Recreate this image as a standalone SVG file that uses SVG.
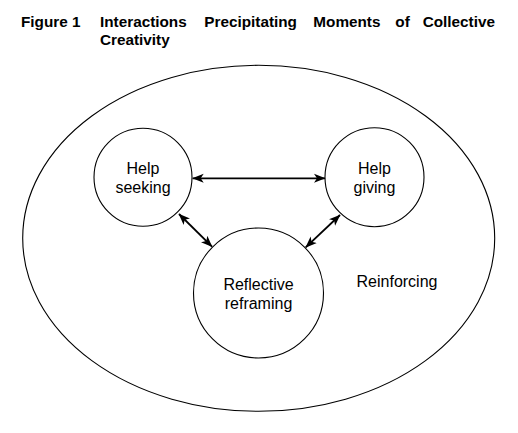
<svg xmlns="http://www.w3.org/2000/svg" width="518" height="433" viewBox="0 0 518 433">
<style>
.title{font-family:"Liberation Sans",Arial,sans-serif;font-weight:bold;font-size:15.3px;fill:#000}
.lbl{font-family:"Liberation Sans",Arial,sans-serif;font-size:16px;fill:#000;text-anchor:middle}
.shape{fill:none;stroke:#000;stroke-width:1.1}
.conn{stroke:#000;stroke-width:1.8;fill:none}
</style>
<defs>
<marker id="ah" markerUnits="userSpaceOnUse" markerWidth="12" markerHeight="10" refX="11" refY="5" orient="auto-start-reverse" viewBox="0 0 12 10">
<path d="M0,0.5 L11.5,5 L0,9.5 L3,5 Z" fill="#000"/>
</marker>
</defs>
<rect width="518" height="433" fill="#fff"/>
<g id="title">
<text class="title" x="21" y="26.5">Figure 1</text>
<text class="title" x="100" y="26.5">Interactions</text>
<text class="title" x="204.3" y="26.5">Precipitating</text>
<text class="title" x="313.3" y="26.5">Moments</text>
<text class="title" x="395.3" y="26.5">of</text>
<text class="title" x="422.7" y="26.5">Collective</text>
<text class="title" x="100" y="45">Creativity</text>
</g>
<g id="reinforcing">
<ellipse class="shape" cx="258.7" cy="238.3" rx="236" ry="173"/>
<text class="lbl" x="397" y="286.5">Reinforcing</text>
</g>
<g id="help-seeking">
<circle class="shape" cx="143" cy="177.2" r="49"/>
<text class="lbl" x="143" y="174">Help</text>
<text class="lbl" x="143" y="192.5">seeking</text>
</g>
<g id="help-giving">
<circle class="shape" cx="374.5" cy="177.2" r="49.5"/>
<text class="lbl" x="374.5" y="174">Help</text>
<text class="lbl" x="374.5" y="192.5">giving</text>
</g>
<g id="reflective-reframing">
<circle class="shape" cx="258.5" cy="293" r="65"/>
<text class="lbl" x="258.5" y="290">Reflective</text>
<text class="lbl" x="258.5" y="308.5">reframing</text>
</g>
<g id="connectors">
<line class="conn" x1="192.7" y1="178.3" x2="325" y2="178.3" marker-start="url(#ah)" marker-end="url(#ah)"/>
<line class="conn" x1="179" y1="214" x2="212" y2="246.7" marker-start="url(#ah)" marker-end="url(#ah)"/>
<line class="conn" x1="340" y1="215" x2="305.7" y2="247.3" marker-start="url(#ah)" marker-end="url(#ah)"/>
</g>
</svg>
